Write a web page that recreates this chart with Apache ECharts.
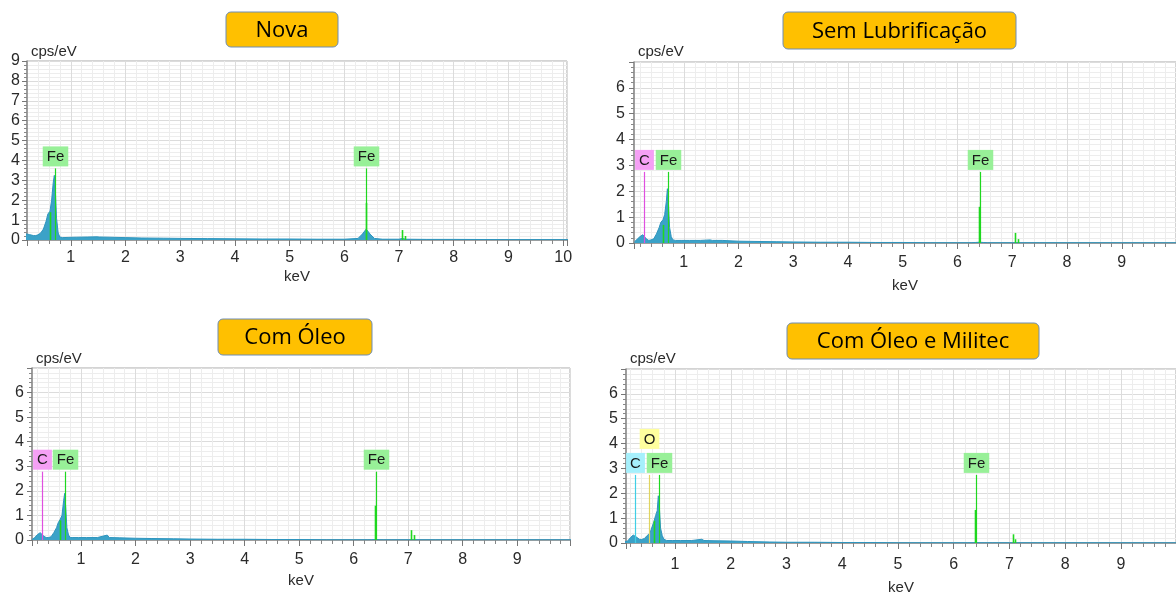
<!DOCTYPE html>
<html>
<head>
<meta charset="utf-8">
<script src="https://cdn.jsdelivr.net/npm/echarts@6/dist/echarts.min.js"></script>
<style>
html, body { margin: 0; padding: 0; background: #fff; }
#chart { width: 1176px; height: 597px; }
</style>
</head>
<body>
<div id="chart"></div>
<script>
// energy points shared by the four spectra (keV)
const keV = [0.10, 0.15, 0.20, 0.25, 0.28, 0.32, 0.36, 0.40, 0.45, 0.50,
             0.55, 0.58, 0.62, 0.65, 0.68, 0.70, 0.72, 0.74, 0.77, 0.80,
             0.85, 0.95, 1.10, 1.30, 1.48, 1.52, 1.70, 2.00, 2.30, 2.70,
             3.00, 3.50, 4.00, 4.50, 5.00, 5.50, 6.00, 6.25, 6.33, 6.40,
             6.47, 6.55, 6.70, 7.00, 7.06, 7.12, 7.50, 8.00, 9.00, 10.10];

// counts (cps/eV)
const novaCps = [0.30, 0.30, 0.30, 0.27, 0.25, 0.22, 0.22, 0.26, 0.35, 0.55,
                 0.95, 1.30, 1.45, 2.00, 2.90, 3.25, 2.40, 1.10, 0.35, 0.15,
                 0.12, 0.13, 0.14, 0.15, 0.16, 0.15, 0.14, 0.12, 0.10, 0.09,
                 0.08, 0.07, 0.06, 0.05, 0.05, 0.04, 0.04, 0.08, 0.30, 0.55,
                 0.30, 0.08, 0.04, 0.04, 0.08, 0.04, 0.03, 0.03, 0.02, 0.02];
const semLubCps = [0.05, 0.15, 0.25, 0.32, 0.30, 0.15, 0.10, 0.12, 0.16, 0.35,
                   0.60, 0.80, 0.90, 1.10, 1.60, 2.10, 1.50, 0.60, 0.25, 0.12,
                   0.10, 0.10, 0.10, 0.10, 0.12, 0.10, 0.10, 0.07, 0.06, 0.05,
                   0.04, 0.03, 0.03, 0.02, 0.02, 0.01, 0.01, 0.01, 0.02, 0.03,
                   0.02, 0.01, 0.01, 0.01, 0.01, 0.01, 0.01, 0.01, 0.01, 0.01];
const comOleoCps = [0.02, 0.10, 0.22, 0.30, 0.28, 0.15, 0.10, 0.10, 0.13, 0.30,
                    0.50, 0.70, 0.85, 1.00, 1.60, 1.90, 1.30, 0.50, 0.20, 0.10,
                    0.10, 0.10, 0.10, 0.10, 0.20, 0.10, 0.09, 0.07, 0.06, 0.05,
                    0.04, 0.03, 0.03, 0.02, 0.02, 0.01, 0.01, 0.01, 0.01, 0.02,
                    0.01, 0.01, 0.01, 0.01, 0.01, 0.01, 0.01, 0.01, 0.01, 0.01];
const militecCps = [0.05, 0.08, 0.22, 0.32, 0.35, 0.22, 0.15, 0.14, 0.18, 0.30,
                    0.40, 0.60, 0.85, 1.10, 1.30, 1.90, 1.40, 0.60, 0.30, 0.15,
                    0.10, 0.10, 0.10, 0.10, 0.15, 0.10, 0.09, 0.08, 0.06, 0.04,
                    0.03, 0.03, 0.02, 0.02, 0.01, 0.01, 0.01, 0.01, 0.01, 0.02,
                    0.01, 0.01, 0.01, 0.01, 0.01, 0.01, 0.01, 0.01, 0.01, 0.01];

// element marker lines: [keV, height in cps/eV]
const novaFeLines = [[0.615, 1.40], [0.705, 3.60], [6.391, 1.87], [6.404, 3.60], [7.058, 0.50], [7.108, 0.20]];
const semFeLines = [[0.615, 0.70], [0.705, 2.75], [6.391, 1.40], [6.404, 2.75], [7.058, 0.39], [7.108, 0.15]];
const semCLines = [[0.277, 2.75]];
const oleoFeLines = [[0.615, 0.80], [0.705, 2.78], [6.391, 1.40], [6.404, 2.78], [7.058, 0.40], [7.108, 0.20]];
const oleoCLines = [[0.277, 2.78]];
const milFeLines = [[0.615, 0.90], [0.705, 2.74], [6.391, 1.33], [6.404, 2.74], [7.058, 0.35], [7.108, 0.15]];
const milCLines = [[0.277, 2.74]];
const milOLines = [[0.525, 2.74]];

const titles = ['Nova', 'Sem Lubrificação', 'Com Óleo', 'Com Óleo e Militec'];

const FE = { line: '#1fd81f', tag: '#98f098' };
const C_PINK = { line: '#e050e0', tag: '#f5a0f5' };
const C_CYAN = { line: '#40cfe6', tag: '#a6f0fc' };
const O_YEL = { line: '#e0d460', tag: '#ffff9e', lift: 24 };

const axisFont = '"Liberation Sans", Arial, sans-serif';

const panels = [
    { box: [226, 12, 112, 35], grid: { left: 27, top: 61, width: 540, height: 179 },
      xMin: 0.2, xMax: 10.07, yMax: 9, cps: novaCps,
      elements: [['Fe', novaFeLines]], colors: { Fe: FE },
      xMargin: 10, xNameGap: 29, yMargin: 7, yNameGap: 2 },
    { box: [783, 12, 233, 37], grid: { left: 634, top: 62, width: 544.5, height: 181 },
      xMin: 0.09, xMax: 9.99, yMax: 7, cps: semLubCps,
      elements: [['C', semCLines], ['Fe', semFeLines]], colors: { Fe: FE, C: C_PINK },
      xMargin: 12, xNameGap: 35, yMargin: 9, yNameGap: 3 },
    { box: [218, 319, 154, 36], grid: { left: 32, top: 368, width: 538, height: 172 },
      xMin: 0.1, xMax: 9.97, yMax: 7, cps: comOleoCps,
      elements: [['C', oleoCLines], ['Fe', oleoFeLines]], colors: { Fe: FE, C: C_PINK },
      xMargin: 12, xNameGap: 33, yMargin: 8, yNameGap: 2 },
    { box: [787, 323, 252, 36], grid: { left: 626, top: 369, width: 563, height: 174 },
      xMin: 0.12, xMax: 9.99, yMax: 7, cps: militecCps,
      elements: [['C', milCLines], ['O', milOLines], ['Fe', milFeLines]], colors: { Fe: FE, C: C_CYAN, O: O_YEL },
      xMargin: 14, xNameGap: 37, yMargin: 8, yNameGap: 3 }
];

const chart = echarts.init(document.getElementById('chart'));

let grids = [], xAxes = [], yAxes = [], series = [], graphics = [];

panels.forEach((p, i) => {
    grids.push(Object.assign({ show: true, borderColor: '#a8a8a8', borderWidth: 1, backgroundColor: '#fff' }, p.grid));

    xAxes.push({
        type: 'value', gridIndex: i, min: p.xMin, max: p.xMax,
        minInterval: 1, maxInterval: 1,
        axisLine: { show: true, onZero: false, lineStyle: { color: '#8a8a8a', width: 1.5 } },
        axisTick: { show: true, length: 6, lineStyle: { color: '#777' } },
        minorTick: { show: true, splitNumber: 5, length: 4, lineStyle: { color: '#888' } },
        axisLabel: { showMinLabel: false, showMaxLabel: false, margin: p.xMargin,
                     color: '#2a2a2a', fontSize: 16, fontFamily: axisFont },
        splitLine: { show: true, lineStyle: { color: '#dcdcdc' } },
        minorSplitLine: { show: true, lineStyle: { color: '#ededed' } },
        name: 'keV', nameLocation: 'middle', nameGap: p.xNameGap,
        nameTextStyle: { color: '#2a2a2a', fontSize: 15, fontFamily: axisFont }
    });

    yAxes.push({
        type: 'value', gridIndex: i, min: 0, max: p.yMax, interval: 1,
        axisLine: { show: true, onZero: false, lineStyle: { color: '#8a8a8a', width: 1.5 } },
        axisTick: { show: true, length: 5, lineStyle: { color: '#777' } },
        minorTick: { show: true, splitNumber: 5, length: 3, lineStyle: { color: '#888' } },
        axisLabel: { showMaxLabel: i === 0, margin: p.yMargin,
                     color: '#2a2a2a', fontSize: 16, fontFamily: axisFont },
        splitLine: { show: true, lineStyle: { color: '#dcdcdc' } },
        minorSplitLine: { show: true, lineStyle: { color: '#ededed' } },
        name: 'cps/eV', nameLocation: 'end', nameGap: p.yNameGap,
        nameTextStyle: { color: '#2a2a2a', fontSize: 15, fontFamily: axisFont,
                         align: 'left', verticalAlign: 'bottom', padding: [0, 0, 0, 4] }
    });

    // spectrum
    series.push({
        type: 'line', xAxisIndex: i, yAxisIndex: i, silent: true, z: 2,
        data: keV.map((e, j) => [e, p.cps[j]]),
        symbol: 'none', showSymbol: false,
        lineStyle: { color: '#2f95be', width: 1 },
        areaStyle: { color: '#3ba2c8', opacity: 1 }
    });

    // element lines + tags
    const marks = [];
    p.elements.forEach(([name, lines]) => {
        const top = Math.max(...lines.map(l => l[1]));
        lines.forEach(l => marks.push({ name: name, e: l[0], h: l[1], tag: l[1] === top }));
    });
    series.push({
        type: 'custom', xAxisIndex: i, yAxisIndex: i, silent: true, z: 5,
        data: marks.map(m => [m.e, m.h]),
        renderItem: function (params, api) {
            const m = marks[params.dataIndex];
            const c = p.colors[m.name];
            const p0 = api.coord([m.e, 0]);
            const p1 = api.coord([m.e, m.h]);
            const x = Math.round(p0[0]) + 0.5;
            const kids = [{
                type: 'line',
                shape: { x1: x, y1: p0[1], x2: x, y2: p1[1] },
                style: { stroke: c.line, lineWidth: m.tag ? 1.2 : 1.6, opacity: 1 }
            }];
            if (m.tag) {
                kids.push({
                    type: 'text', x: x, y: p1[1] - 2 - (c.lift || 0),
                    style: {
                        text: m.name, fill: '#1a1a1a', font: '15px ' + axisFont,
                        align: 'center', verticalAlign: 'bottom',
                        backgroundColor: c.tag, padding: [3, 4, 2, 4]
                    }
                });
            }
            return { type: 'group', children: kids };
        }
    });

    // title box
    const b = p.box;
    graphics.push({
        type: 'rect', z: 10,
        shape: { x: b[0], y: b[1], width: b[2], height: b[3], r: 5 },
        style: { fill: '#FFC000', stroke: '#6e8db5', lineWidth: 1 }
    });
    graphics.push({
        type: 'text', z: 11, x: b[0] + b[2] / 2, y: b[1] + b[3] / 2 + 1,
        style: { text: titles[i], font: '22px "Open Sans", sans-serif', fill: '#000',
                 align: 'center', verticalAlign: 'middle', textAlign: 'center', textVerticalAlign: 'middle' }
    });
});

chart.setOption({
    animation: false,
    backgroundColor: '#fff',
    grid: grids,
    xAxis: xAxes,
    yAxis: yAxes,
    series: series,
    graphic: graphics
});
</script>
</body>
</html>
